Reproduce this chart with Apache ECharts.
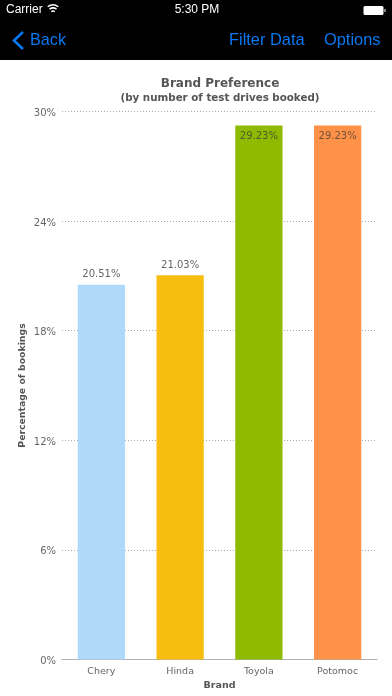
<!DOCTYPE html>
<html><head><meta charset="utf-8">
<style>html,body{margin:0;padding:0;background:#fff}#c{width:392px;height:696px}</style>
<script src="https://cdn.jsdelivr.net/npm/echarts@6/dist/echarts.min.js"></script>
</head><body><div id="c"></div>
<script>
const categories = ['Chery','Hinda','Toyola','Potomoc'];
const values = [20.51,21.03,29.23,29.23];
const labels = ['20.51%','21.03%','29.23%','29.23%'];
const colors = ['#b0d8f9','#f7bd0f','#8eba00','#ff9148'];
const labelInside = [false,false,true,true];
const ticks = {min:0,max:30,interval:6};
const FONT = '"DejaVu Sans"';
const UI = '"Liberation Sans"';
const BLUE = '#0a78f0';
const chart = echarts.init(document.getElementById('c'),null,{renderer:'canvas'});
chart.setOption({
  animation:false,
  backgroundColor:'#fff',
  title:[
    {text:'Brand Preference',left:220,top:76,textAlign:'center',
     textStyle:{fontFamily:FONT,fontSize:12,fontWeight:'bold',color:'#555',lineHeight:16},padding:0},
    {text:'(by number of test drives booked)',left:220,top:92,textAlign:'center',
     textStyle:{fontFamily:FONT,fontSize:10.3,fontWeight:'bold',color:'#555',lineHeight:13},padding:0}
  ],
  grid:{left:62,right:15,top:111.5,bottom:36.5},
  xAxis:{type:'category',data:categories,name:'Brand',nameLocation:'middle',nameGap:21.5,nameMoveOverlap:false,
    nameTextStyle:{fontFamily:FONT,fontSize:9.5,fontWeight:'bold',color:'#555'},
    axisTick:{show:false},axisLine:{lineStyle:{color:'#b0b0b0',width:1}},
    axisLabel:{fontFamily:FONT,fontSize:9.5,color:'#666',margin:7.5},splitLine:{show:false}},
  yAxis:{type:'value',min:ticks.min,max:ticks.max,interval:ticks.interval,
    name:'Percentage of bookings',nameLocation:'middle',nameGap:35,nameRotate:90,nameMoveOverlap:false,
    nameTextStyle:{fontFamily:FONT,fontSize:9.3,fontWeight:'bold',color:'#555'},
    axisLine:{show:false},axisTick:{show:false},
    axisLabel:{fontFamily:FONT,fontSize:10,color:'#666',margin:6,verticalAlign:'top',lineHeight:4,formatter:'{value}%'},
    splitLine:{lineStyle:{color:'#aaa',type:[1,2],width:1}}},
  series:[{type:'bar',barWidth:'60%',
    data:values.map((v,i)=>({value:v,itemStyle:{color:colors[i]},
      label:{show:true,position:labelInside[i]?'insideTop':'top',distance:labelInside[i]?6:5,
        formatter:labels[i],fontFamily:FONT,fontSize:10,color:labelInside[i]?'rgba(60,60,60,0.75)':'#666'}}))}],
  graphic:[
    {type:'rect',z:10,shape:{x:0,y:0,width:392,height:60},style:{fill:'#000'}},
    {type:'text',z:11,x:6,y:10,style:{text:'Carrier',fill:'#fff',font:'12px '+UI,textVerticalAlign:'middle'}},
    {type:'text',z:11,x:197,y:10,style:{text:'5:30 PM',fill:'#fff',font:'12px '+UI,textAlign:'center',textVerticalAlign:'middle'}},
    {type:'arc',z:11,shape:{cx:53,cy:14,r:9,startAngle:-2.2,endAngle:-0.94},style:{fill:'none',stroke:'#fff',lineWidth:1.5}},
    {type:'arc',z:11,shape:{cx:53,cy:14,r:6,startAngle:-2.2,endAngle:-0.94},style:{fill:'none',stroke:'#fff',lineWidth:1.5}},
    {type:'arc',z:11,shape:{cx:53,cy:14,r:3,startAngle:-2.2,endAngle:-0.94},style:{fill:'none',stroke:'#fff',lineWidth:1.5}},
    {type:'rect',z:11,shape:{x:363.5,y:6,width:20,height:9,r:1.5},style:{fill:'#fff'}},
    {type:'rect',z:11,shape:{x:384.5,y:9,width:1,height:3},style:{fill:'#fff'}},
    {type:'polyline',z:11,shape:{points:[[23,32],[14,40.5],[23,49]]},style:{fill:'none',stroke:BLUE,lineWidth:2.6}},
    {type:'text',z:11,x:30,y:40.5,style:{text:'Back',fill:BLUE,font:'16.2px '+UI,textVerticalAlign:'middle'}},
    {type:'text',z:11,x:229,y:40.5,style:{text:'Filter Data',fill:BLUE,font:'16.4px '+UI,textVerticalAlign:'middle'}},
    {type:'text',z:11,x:324,y:40.5,style:{text:'Options',fill:BLUE,font:'16.4px '+UI,textVerticalAlign:'middle'}}
  ]
});
</script></body></html>
